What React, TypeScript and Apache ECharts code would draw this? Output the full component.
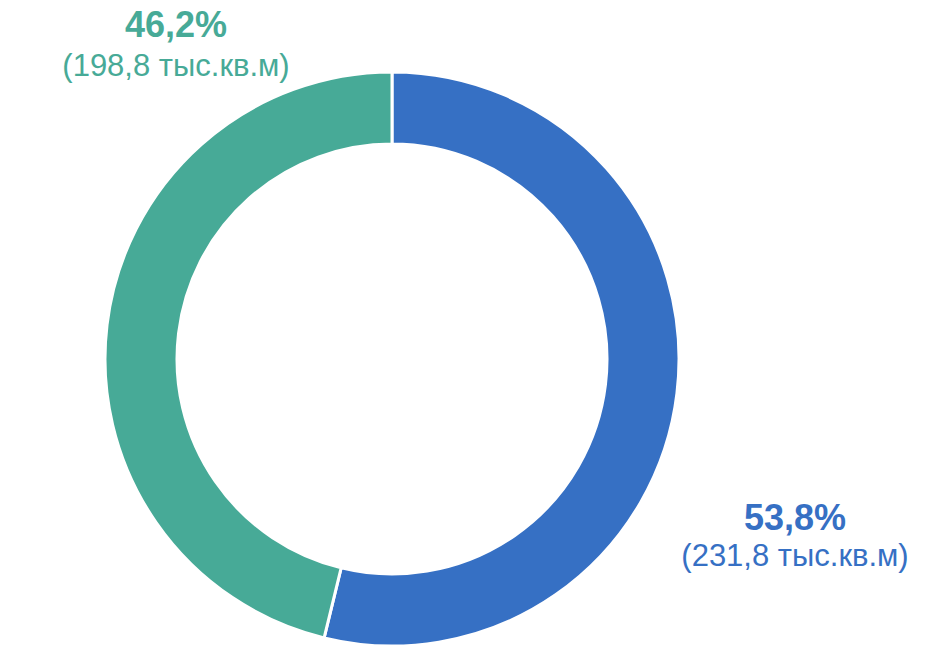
import React, { useEffect, useRef } from "react";
import * as echarts from "echarts";

const categories = ["Blue", "Green"];
const percents = [53.8, 46.2];
const areas = [231.8, 198.8];
const colors = ["#3670C4", "#47AA97"];

const fmt = (v: number) => v.toFixed(1).replace(".", ",");

export default function App() {
  const ref = useRef<HTMLDivElement>(null);
  useEffect(() => {
    const chart = echarts.init(ref.current!, null, { renderer: "svg" });
    const font = "Liberation Sans, Arial, sans-serif";
    const labelPos = [
      { x: 795, y1: 517, y2: 555 },
      { x: 176, y1: 24, y2: 65 },
    ];
    const graphics: any[] = [];
    categories.forEach((_, i) => {
      graphics.push({
        type: "text",
        x: labelPos[i].x,
        y: labelPos[i].y1,
        style: {
          text: fmt(percents[i]) + "%",
          fill: colors[i],
          font: `bold 36px ${font}`,
          align: "center",
          verticalAlign: "middle",
        },
      });
      graphics.push({
        type: "text",
        x: labelPos[i].x,
        y: labelPos[i].y2,
        style: {
          text: `(${fmt(areas[i])} тыс.кв.м)`,
          fill: colors[i],
          font: `31px ${font}`,
          align: "center",
          verticalAlign: "middle",
        },
      });
    });
    chart.setOption({
      animation: false,
      backgroundColor: "#ffffff",
      graphic: graphics,
      series: [
        {
          type: "pie",
          center: [392, 359],
          radius: [215, 287],
          startAngle: 90,
          clockwise: true,
          label: { show: false },
          labelLine: { show: false },
          emphasis: { disabled: true },
          itemStyle: { borderColor: "#ffffff", borderWidth: 3 },
          data: categories.map((c, i) => ({
            name: c,
            value: percents[i],
            itemStyle: { color: colors[i] },
          })),
        },
      ],
    });
    return () => chart.dispose();
  }, []);
  return (
    <div
      ref={ref}
      style={{ position: "fixed", left: 0, top: 0, width: 925, height: 646 }}
    />
  );
}
